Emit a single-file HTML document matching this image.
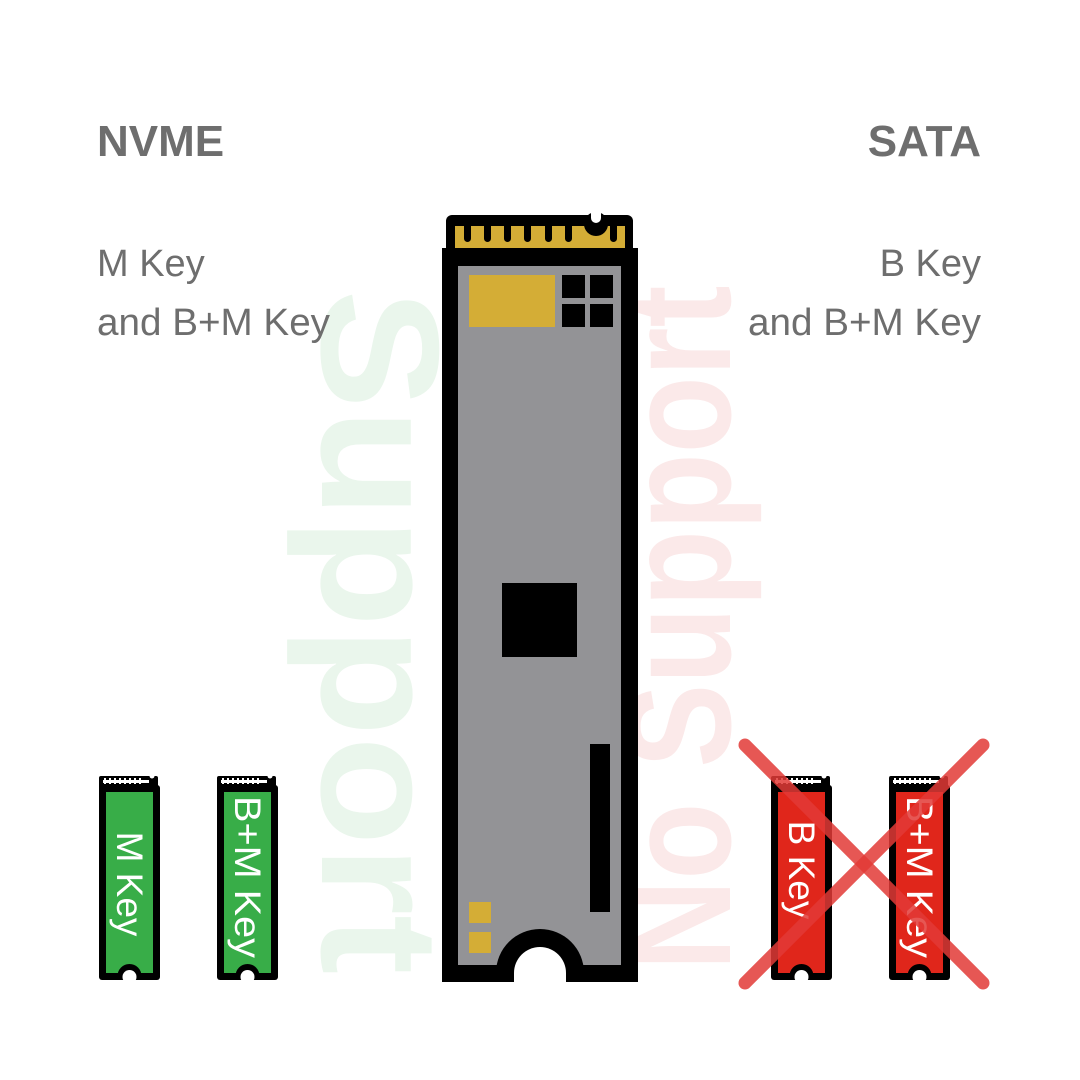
<!DOCTYPE html>
<html><head><meta charset="utf-8"><style>
html,body{margin:0;padding:0;background:#fff;}
svg{display:block;}
</style></head><body>
<svg width="1080" height="1080" viewBox="0 0 1080 1080" xmlns="http://www.w3.org/2000/svg">
<defs>
<g id="card">
  <rect x="0" y="-9" width="59" height="14" rx="2" fill="#000"/>
  <g fill="#fff">
    <rect x="5" y="-7" width="2" height="6"/><rect x="10" y="-7" width="2" height="6"/>
    <rect x="15" y="-7" width="2" height="6"/><rect x="20" y="-7" width="2" height="6"/>
    <rect x="25" y="-7" width="2" height="6"/><rect x="30" y="-7" width="2" height="6"/>
    <rect x="35" y="-7" width="2" height="6"/><rect x="40" y="-7" width="2" height="6"/>
    <rect x="4" y="-5" width="46" height="3"/>
    <circle cx="53" cy="-9" r="2.5"/>
  </g>
  <rect x="0" y="0" width="61" height="195" rx="3" fill="#000"/>
</g>
</defs>

<!-- watermarks -->
<text transform="translate(322,632) rotate(90)" text-anchor="middle" font-family="Liberation Sans, sans-serif" font-weight="bold" font-size="168" fill="#eaf6ec" textLength="685" lengthAdjust="spacingAndGlyphs">Support</text>
<text transform="translate(730,628) rotate(-90)" text-anchor="middle" font-family="Liberation Sans, sans-serif" font-weight="bold" font-size="150" fill="#fbe9e9" textLength="685" lengthAdjust="spacingAndGlyphs">No Support</text>

<!-- headings -->
<g font-family="Liberation Sans, sans-serif" fill="#6e6e6e">
  <text x="97" y="156" font-size="44" font-weight="bold">NVME</text>
  <text x="981" y="156" font-size="44" font-weight="bold" text-anchor="end">SATA</text>
  <text x="97" y="276" font-size="38">M Key</text>
  <text x="97" y="335" font-size="38" textLength="233" lengthAdjust="spacingAndGlyphs">and B+M Key</text>
  <text x="981" y="276" font-size="38" text-anchor="end">B Key</text>
  <text x="981" y="335" font-size="38" text-anchor="end" textLength="233" lengthAdjust="spacingAndGlyphs">and B+M Key</text>
</g>

<!-- big SSD -->
<rect x="446" y="215" width="187" height="40" rx="6" fill="#000"/>
<rect x="455" y="226" width="170" height="24" fill="#d4ad36"/>
<g fill="#000">
  <rect x="464" y="222" width="7" height="20" rx="3.5"/>
  <rect x="484" y="222" width="7" height="20" rx="3.5"/>
  <rect x="504" y="222" width="7" height="20" rx="3.5"/>
  <rect x="524" y="222" width="7" height="20" rx="3.5"/>
  <rect x="545" y="222" width="7" height="20" rx="3.5"/>
  <rect x="565" y="222" width="7" height="20" rx="3.5"/>
  <rect x="610" y="222" width="7" height="20" rx="3.5"/>
  <circle cx="596" cy="224" r="12"/>
</g>
<circle cx="596" cy="218" r="5" fill="#fff"/>
<rect x="591" y="212" width="10" height="6" fill="#fff"/>
<rect x="442" y="248" width="196" height="734" fill="#000"/>
<rect x="458" y="266" width="163" height="699" fill="#939396"/>
<rect x="469" y="275" width="86" height="52" fill="#d4ad36"/>
<rect x="562" y="275" width="23" height="23" fill="#000"/>
<rect x="590" y="275" width="23" height="23" fill="#000"/>
<rect x="562" y="304" width="23" height="23" fill="#000"/>
<rect x="590" y="304" width="23" height="23" fill="#000"/>
<rect x="502" y="583" width="75" height="74" fill="#000"/>
<rect x="590" y="744" width="20" height="168" fill="#000"/>
<rect x="469" y="902" width="22" height="21" fill="#d4ad36"/>
<rect x="469" y="932" width="22" height="21" fill="#d4ad36"/>
<circle cx="540" cy="973" r="44" fill="#000"/>
<circle cx="540" cy="973" r="26" fill="#fff"/>
<rect x="494" y="982" width="92" height="40" fill="#fff"/>
<rect x="514" y="973" width="52" height="10" fill="#fff"/>

<!-- small cards -->
<g font-family="Liberation Sans, sans-serif" fill="#fff" font-size="37">
  <g transform="translate(99,785)">
    <use href="#card"/>
    <rect x="7" y="7" width="47" height="181" fill="#38ad48"/>
  </g>
  <g transform="translate(217,785)">
    <use href="#card"/>
    <rect x="7" y="7" width="47" height="181" fill="#38ad48"/>
  </g>
  <g transform="translate(771,785)">
    <use href="#card"/>
    <rect x="7" y="7" width="47" height="181" fill="#e0261b"/>
  </g>
  <g transform="translate(889,785)">
    <use href="#card"/>
    <rect x="7" y="7" width="47" height="181" fill="#e0261b"/>
  </g>
  <g fill="#000">
    <circle cx="129.5" cy="976" r="12"/><circle cx="247.5" cy="976" r="12"/>
    <circle cx="801.5" cy="976" r="12"/><circle cx="919.5" cy="976" r="12"/>
  </g>
  <g fill="#fff">
    <circle cx="129.5" cy="977" r="7"/><circle cx="247.5" cy="977" r="7"/>
    <circle cx="801.5" cy="977" r="7"/><circle cx="919.5" cy="977" r="7"/>
    <rect x="90" y="980" width="200" height="12"/>
    <rect x="760" y="980" width="200" height="12"/>
  </g>
  <text transform="translate(117,884) rotate(90)" text-anchor="middle">M Key</text>
  <text transform="translate(235,877) rotate(90)" text-anchor="middle" textLength="162" lengthAdjust="spacingAndGlyphs">B+M Key</text>
  <text transform="translate(789,870) rotate(90)" text-anchor="middle">B Key</text>
  <text transform="translate(907,877) rotate(90)" text-anchor="middle" textLength="162" lengthAdjust="spacingAndGlyphs">B+M Key</text>
</g>

<!-- red X -->
<g stroke="#e23a36" stroke-opacity="0.85" stroke-width="13" stroke-linecap="round">
  <line x1="745" y1="745" x2="983" y2="983"/>
  <line x1="983" y1="745" x2="745" y2="983"/>
</g>
</svg>
</body></html>
